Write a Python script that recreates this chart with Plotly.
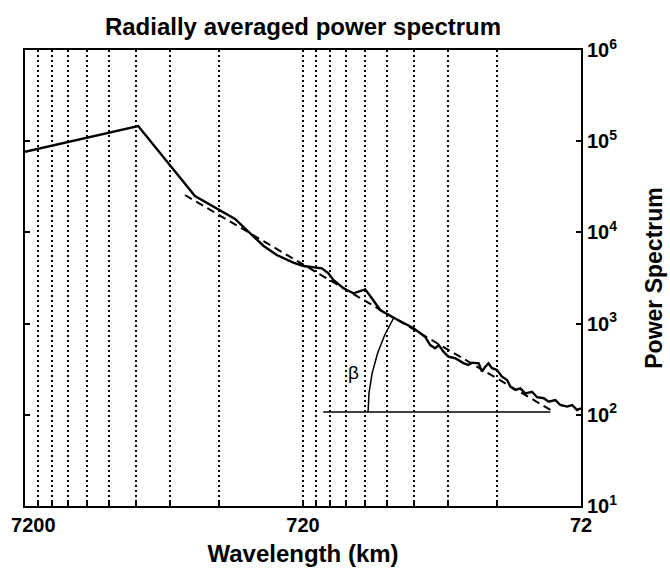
import numpy as np
import plotly.graph_objects as go

# ---- data ----
wavelength_km = [7200, 2819, 1762, 1264, 1000, 895, 780, 718, 616, 583, 560, 515, 474, 455,
                 430, 407, 380, 345, 304.5, 288, 262, 251, 241, 234, 225, 216, 204, 190, 183,
                 178, 168, 163.5, 159, 155, 150.5, 144.4, 138.5, 132.8, 129.2, 124, 119, 114.2,
                 108, 103.6, 98, 94.1, 89, 85.4, 80.8, 77.5, 74.4, 72]
power = [76700, 146800, 25060, 14030, 7145, 5650, 4656, 4285, 4038, 3561, 3005, 2438, 2148, 2238,
         2377, 1893, 1409, 1190, 966, 888, 718, 582, 536, 582, 492, 434, 417, 367, 352,
         373, 367, 297, 337, 367, 324, 310, 262, 241, 203, 187, 195, 172, 179,
         156, 152, 139, 145, 128, 123, 128, 113, 118]

fit_wavelength = [1914, 89.8]
fit_power = [25700, 107]

base_wavelength = [609, 92.8]
base_power = [107, 107]

arc_start_km = 420          # where the angle arc meets the base line
beta_pos = (475, 294)       # wavelength, power of the beta label

x_major = [7200, 720, 72]
x_major_text = ["\u00a0\u00a0\u00a0<b>7200</b>", "<b>720</b>", "<b>72</b>"]
x_minor = [72 * k for k in range(2, 10)] + [720 * k for k in range(2, 10)]
y_ticks = [10, 100, 1000, 10000, 100000, 1000000]
y_text = ["<b>10<sup>%d</sup></b>" % n for n in range(1, 7)]

# ---- figure geometry ----
W, H = 670, 569
M = dict(l=25, r=89, t=50, b=63)
plot_w = W - M["l"] - M["r"]
plot_h = H - M["t"] - M["b"]
x_range = [np.log10(7200) + 1e-5, np.log10(72) - 1e-5]
y_range = [1 - 1e-5, 6 + 1e-5]
px_x = plot_w / abs(x_range[1] - x_range[0])
px_y = plot_h / abs(y_range[1] - y_range[0])

# angle arc (circle in screen space) centred at end of fit line
cx, cy = np.log10(fit_wavelength[1]), np.log10(fit_power[1])
r = (np.log10(arc_start_km) - cx) * px_x
dxp = (np.log10(fit_wavelength[0]) - cx) * px_x
dyp = (np.log10(fit_power[0]) - cy) * px_y
theta = np.linspace(0, np.arctan2(dyp, dxp), 40)
arc_x = 10 ** (cx + r * np.cos(theta) / px_x)
arc_y = 10 ** (cy + r * np.sin(theta) / px_y)

FONT = "Liberation Sans, Arial, Helvetica, sans-serif"

fig = go.Figure()
fig.add_trace(go.Scatter(x=wavelength_km, y=power, mode="lines",
                         line=dict(color="black", width=2.4), hoverinfo="skip"))
fig.add_trace(go.Scatter(x=fit_wavelength, y=fit_power, mode="lines",
                         line=dict(color="black", width=2, dash="8px,5px"), hoverinfo="skip"))
fig.add_trace(go.Scatter(x=base_wavelength, y=base_power, mode="lines",
                         line=dict(color="black", width=1.5), hoverinfo="skip"))
fig.add_trace(go.Scatter(x=arc_x, y=arc_y, mode="lines",
                         line=dict(color="black", width=1.5), hoverinfo="skip"))

fig.add_annotation(x=np.log10(beta_pos[0]), y=np.log10(beta_pos[1]), text="β",
                   showarrow=False, font=dict(family=FONT, size=19, color="black"))

fig.update_layout(
    width=W, height=H, margin=M,
    paper_bgcolor="white", plot_bgcolor="white", showlegend=False,
    font=dict(family=FONT, color="black"),
    title=dict(text="<b>Radially averaged power spectrum</b>", x=0.5, xref="paper",
               y=1 - 27 / H, yref="container", yanchor="middle",
               font=dict(family=FONT, size=24, color="black")),
)

fig.update_xaxes(
    type="log", range=x_range, automargin=False,
    tickmode="array", tickvals=x_major, ticktext=x_major_text,
    ticklabeloverflow="allow",
    ticks="inside", ticklen=5, tickwidth=1.5, tickcolor="black",
    tickfont=dict(family=FONT, size=20, color="black"),
    showline=True, linewidth=2, linecolor="black", mirror=True,
    showgrid=True, gridcolor="black", gridwidth=1.5, griddash="2px,3px",
    minor=dict(tickvals=x_minor, ticks="inside", ticklen=5, tickwidth=1.5, tickcolor="black",
               showgrid=True, gridcolor="black", gridwidth=1.5, griddash="2px,3px"),
    title=dict(text="<b>Wavelength (km)</b>", standoff=10,
               font=dict(family=FONT, size=24, color="black")),
)

fig.update_yaxes(
    type="log", range=y_range, side="right", automargin=False,
    tickmode="array", tickvals=y_ticks, ticktext=y_text,
    ticks="inside", ticklen=5, tickwidth=1.5, tickcolor="black",
    tickfont=dict(family=FONT, size=20, color="black"),
    showline=True, linewidth=2, linecolor="black", mirror="ticks",
    showgrid=False, zeroline=False,
    title=dict(text="<b>Power Spectrum</b>", standoff=30,
               font=dict(family=FONT, size=23, color="black")),
)

fig.write_html("out.html")
